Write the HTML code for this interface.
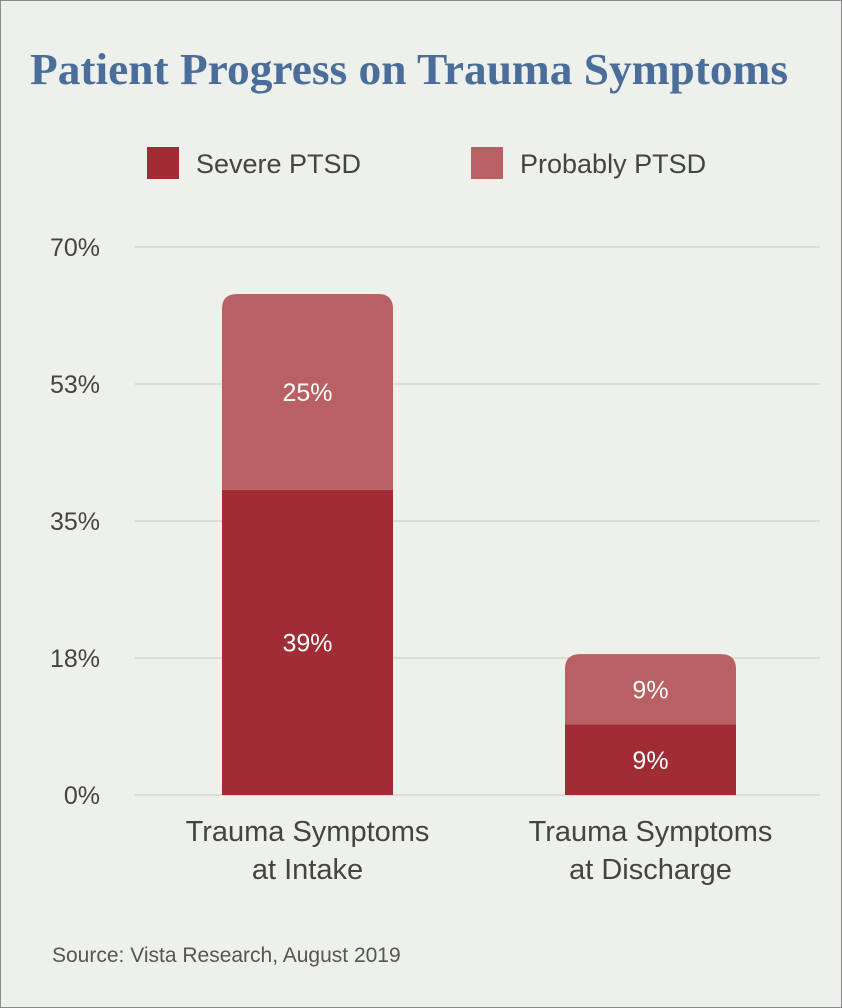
<!DOCTYPE html>
<html><head><meta charset="utf-8"><style>
html,body{margin:0;padding:0;background:#eef0ec;}
svg{display:block;font-family:"Liberation Sans",sans-serif;}
</style></head><body>
<svg id="chart" width="842" height="1008" viewBox="0 0 842 1008">
<rect x="0.5" y="0.5" width="841" height="1007" fill="#eef0ec" stroke="#8a8a8a"/>
<text x="409" y="84" text-anchor="middle" font-family="Liberation Serif,serif" font-weight="bold" font-size="44" fill="#4a6d9a" textLength="758" lengthAdjust="spacingAndGlyphs">Patient Progress on Trauma Symptoms</text>
<rect x="147" y="147" width="32" height="32" fill="#a02d35"/>
<text x="196" y="173" font-size="27" fill="#444">Severe PTSD</text>
<rect x="471" y="147" width="32" height="32" fill="#b86064"/>
<text x="520" y="173" font-size="27" fill="#444">Probably PTSD</text>
<g id="grid"></g><g id="bars"></g><g id="labels"></g>
<text x="52" y="962" font-size="21" fill="#555">Source: Vista Research, August 2019</text>
</svg>
<script>
const categories=[["Trauma Symptoms","at Intake"],["Trauma Symptoms","at Discharge"]];
const severe=[39,9];
const probable=[25,9];
const tickValues=[0,17.5,35,52.5,70];
const tickLabels=["0%","18%","35%","53%","70%"];
const NS="http://www.w3.org/2000/svg";
const y0=795,yTop=247,vMax=70;
function yS(v){return y0-(y0-yTop)*v/vMax;}
const centers=[307.5,650.5],bw=171;
function mk(t,a,p){const e=document.createElementNS(NS,t);for(const k in a)e.setAttribute(k,a[k]);p.appendChild(e);return e;}
const grid=document.getElementById('grid'),bars=document.getElementById('bars'),labels=document.getElementById('labels');
tickValues.forEach((v,i)=>{
 const l=mk('line',{x1:135,x2:820,y1:yS(v),y2:yS(v),stroke:'#dcdcd8','stroke-width':2},grid);
 
 
 const t=mk('text',{x:100,y:yS(v)+9,'text-anchor':'end','font-size':25,fill:'#444'},grid);
 t.textContent=tickLabels[i];
 
 
});
function topRounded(x,y,w,h,r){return `M${x},${y+h}V${y+r}Q${x},${y} ${x+r},${y}H${x+w-r}Q${x+w},${y} ${x+w},${y+r}V${y+h}Z`;}
categories.forEach((c,i)=>{
 const x=centers[i]-bw/2;
 const s=mk('rect',{x:x,y:yS(severe[i]),width:bw,height:y0-yS(severe[i]),fill:'#a02d35'},bars);
 
 
 const pt=yS(severe[i]+probable[i]);
 const p=mk('path',{d:topRounded(x,pt,bw,yS(severe[i])-pt,15),fill:'#b86064'},bars);
 
 
 const t1=mk('text',{x:centers[i],y:(yS(severe[i])+y0)/2+9,'text-anchor':'middle','font-size':25,fill:'#fff'},labels);
 t1.textContent=severe[i]+'%';
 
 
 const t2=mk('text',{x:centers[i],y:(pt+yS(severe[i]))/2+9,'text-anchor':'middle','font-size':25,fill:'#fff'},labels);
 t2.textContent=probable[i]+'%';
 
 
 c.forEach((line,j)=>{
  const t=mk('text',{x:centers[i],y:841+j*38,'text-anchor':'middle','font-size':29,fill:'#444'},labels);
  t.textContent=line;
  
  
 });
});
</script>
</body></html>
